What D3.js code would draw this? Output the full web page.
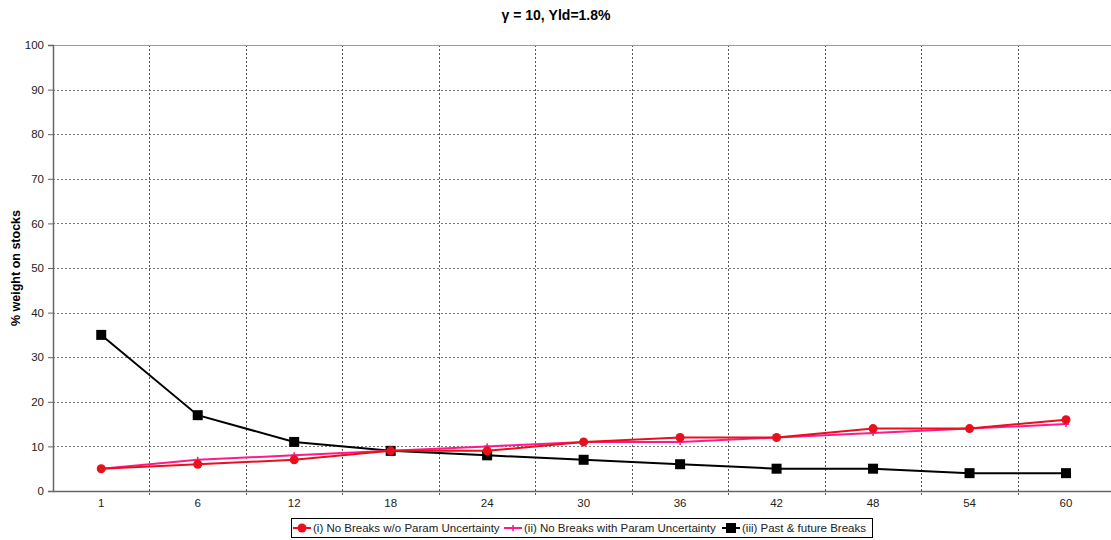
<!DOCTYPE html>
<html>
<head>
<meta charset="utf-8">
<script src="https://cdn.jsdelivr.net/npm/d3@7"></script>
<style>
  html, body { margin: 0; padding: 0; background: #fff; }
  svg { display: block; font-family: "Liberation Sans", Arial, sans-serif; }
</style>
</head>
<body>
<svg id="chart" width="1111" height="540"></svg>
<script>
// Horizon categories (months)
const horizons = ["1", "6", "12", "18", "24", "30", "36", "42", "48", "54", "60"];
// % weight on stocks for each model
const noBreaksNoParam = [5, 6, 7, 9, 9, 11, 12, 12, 14, 14, 16];
const noBreaksParam   = [5, 7, 8, 9, 10, 11, 11, 12, 13, 14, 15];
const pastFutureBreaks = [35, 17, 11, 9, 8, 7, 6, 5, 5, 4, 4];
const yTicks = [0, 10, 20, 30, 40, 50, 60, 70, 80, 90, 100];
const seriesNames = [
  "(i) No Breaks w/o Param Uncertainty",
  "(ii) No Breaks with Param Uncertainty",
  "(iii) Past & future Breaks"
];

const series = [
  { name: seriesNames[0], values: noBreaksNoParam, color: "#e8101c", marker: "circle" },
  { name: seriesNames[1], values: noBreaksParam, color: "#ff1a8c", marker: "plus" },
  { name: seriesNames[2], values: pastFutureBreaks, color: "#000000", marker: "square" }
];

const svg = d3.select("#chart");
const m = { left: 53, top: 45, right: 1114.25, bottom: 491 };

const x = d3.scaleBand().domain(horizons).range([m.left, m.right]).padding(0);
const y = d3.scaleLinear().domain([0, 100]).range([m.bottom, m.top]);

// Title
svg.append("text")
  .attr("x", 556).attr("y", 20)
  .attr("text-anchor", "middle")
  .attr("font-size", 14).attr("font-weight", "bold")
  .text("γ = 10, Yld=1.8%");

// Horizontal dotted gridlines
svg.append("g").selectAll("line")
  .data(yTicks.filter(d => d > 0 && d < 100))
  .join("line")
  .attr("x1", m.left).attr("x2", m.right)
  .attr("y1", d => Math.round(y(d)) + 0.5).attr("y2", d => Math.round(y(d)) + 0.5)
  .attr("stroke", "#777").attr("stroke-width", 1)
  .attr("stroke-dasharray", "2,2");

// Vertical dotted gridlines at category boundaries
const bounds = horizons.slice(1).map(h => x(h));
svg.append("g").selectAll("line")
  .data(bounds)
  .join("line")
  .attr("x1", d => Math.round(d) + 0.5).attr("x2", d => Math.round(d) + 0.5)
  .attr("y1", m.top).attr("y2", m.bottom + 5)
  .attr("stroke", "#555").attr("stroke-width", 1)
  .attr("stroke-dasharray", "2,2");

// Top border of the plot area
svg.append("line")
  .attr("x1", m.left).attr("x2", m.right)
  .attr("y1", m.top + 0.5).attr("y2", m.top + 0.5)
  .attr("stroke", "#999").attr("stroke-width", 1);

// Y axis
const yAxis = svg.append("g")
  .attr("transform", `translate(${m.left},0)`)
  .call(d3.axisLeft(y).tickValues(yTicks).tickSize(5).tickPadding(4));
yAxis.select(".domain").attr("stroke", "#666").attr("stroke-width", 1.5);
yAxis.selectAll(".tick line").attr("stroke", "#666");
yAxis.selectAll("text").attr("font-size", 11.5).attr("fill", "#222")
  .attr("font-family", "Liberation Sans, Arial, sans-serif");

// X axis
const xAxis = svg.append("g")
  .attr("transform", `translate(0,${m.bottom})`)
  .call(d3.axisBottom(x).tickSize(0).tickPadding(8));
xAxis.select(".domain").attr("stroke", "#666").attr("stroke-width", 1.5);
xAxis.selectAll("text").attr("font-size", 11.5).attr("fill", "#222")
  .attr("font-family", "Liberation Sans, Arial, sans-serif");

// Y axis label
svg.append("text")
  .attr("transform", `translate(20,${(m.top + m.bottom) / 2}) rotate(-90)`)
  .attr("text-anchor", "middle")
  .attr("font-size", 12.5).attr("font-weight", "bold")
  .text("% weight on stocks");

const cx = d => x(d) + x.bandwidth() / 2;

function drawMarker(g, type, color, px, py) {
  if (type === "circle") {
    g.append("circle").attr("cx", px).attr("cy", py).attr("r", 4.5).attr("fill", color);
  } else if (type === "square") {
    g.append("rect").attr("x", px - 5).attr("y", py - 5).attr("width", 10).attr("height", 10)
      .attr("fill", color);
  } else {
    g.append("path")
      .attr("d", `M${px - 3},${py}H${px + 3}M${px},${py - 3}V${py + 3}`)
      .attr("stroke", color).attr("stroke-width", 1.6);
  }
}

const line = d3.line().x((d, i) => cx(horizons[i])).y(d => y(d));

// Draw series: black first, then pink, then red on top
[series[2], series[1], series[0]].forEach(s => {
  const g = svg.append("g");
  g.append("path").datum(s.values)
    .attr("d", line)
    .attr("fill", "none").attr("stroke", s.color).attr("stroke-width", 2);
  s.values.forEach((v, i) => drawMarker(g, s.marker, s.color, cx(horizons[i]), y(v)));
});

// Legend
const legend = svg.append("g");
legend.append("rect")
  .attr("x", 291.5).attr("y", 518.5).attr("width", 581).attr("height", 19)
  .attr("fill", "#fff").attr("stroke", "#000").attr("stroke-width", 1);
const legendX = [293, 504, 722];
series.forEach((s, i) => {
  const lx = legendX[i], ly = 528;
  legend.append("line")
    .attr("x1", lx).attr("x2", lx + 18).attr("y1", ly).attr("y2", ly)
    .attr("stroke", s.color).attr("stroke-width", 2);
  drawMarker(legend, s.marker, s.color, lx + 9, ly);
  legend.append("text")
    .attr("x", lx + 20).attr("y", ly + 4)
    .attr("font-size", 11.5).attr("fill", "#222")
    .text(s.name);
});
</script>
</body>
</html>
